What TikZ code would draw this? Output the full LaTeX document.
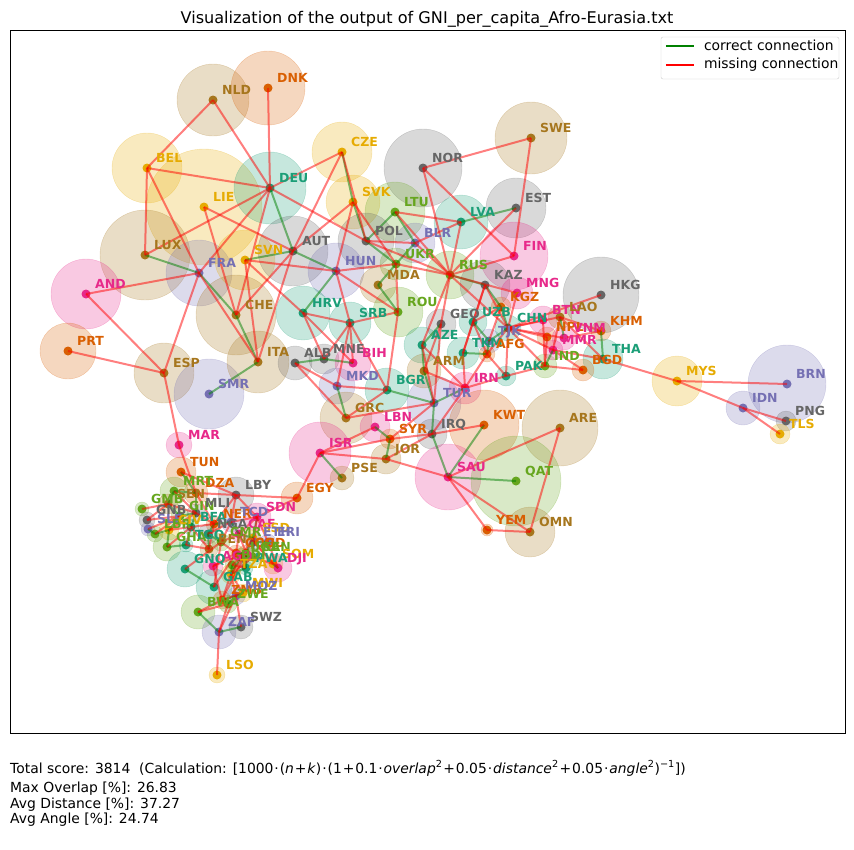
\documentclass[tikz,border=0pt]{standalone}
\usepackage{fontspec}
\setmainfont{DejaVu Sans}
\usetikzlibrary{positioning}
\definecolor{dkteal}{HTML}{1B9E77}
\definecolor{dkorange}{HTML}{D95F02}
\definecolor{dkpurple}{HTML}{7570B3}
\definecolor{dkpink}{HTML}{E7298A}
\definecolor{dkgreen}{HTML}{66A61E}
\definecolor{dkyellow}{HTML}{E6AB02}
\definecolor{dkbrown}{HTML}{A6761D}
\definecolor{dkgray}{HTML}{666666}
\definecolor{okgreen}{RGB}{0,128,0}
\definecolor{legframe}{RGB}{204,204,204}
\pgfdeclarelayer{circles}
\pgfdeclarelayer{links}
\pgfdeclarelayer{labels}
\pgfsetlayers{circles,main,links,labels}

% one country: code, x, y, radius, colour
\newcommand{\ctry}[5]{%
  \begin{pgfonlayer}{circles}
    \filldraw[fill=#5, draw=#5, fill opacity=0.25, draw opacity=0.3] (#2,#3) circle[radius=#4];
  \end{pgfonlayer}
  \node[dot, fill=#5] (#1) at (#2,#3) {};
  \begin{pgfonlayer}{labels}
    \node[lbl, text=#5] at ([shift={(9pt,6pt)}]#1.center) {#1};
  \end{pgfonlayer}
}
% binary operator with a little space
\newcommand{\bop}[1]{\hspace{0.9pt}#1\hspace{0.9pt}}

\begin{document}
\begin{tikzpicture}[x=1pt, y=-1pt,
  dot/.style={circle, inner sep=0pt, minimum size=9pt},
  lbl/.style={anchor=base west, inner sep=0pt, font=\fontsize{12.5}{14}\selectfont\bfseries},
  okline/.style={okgreen, line width=2pt, opacity=0.5},
  missline/.style={red, line width=2pt, opacity=0.5},
  txt/.style={anchor=base west, inner sep=0pt, font=\fontsize{13.9}{16}\selectfont},
]
  \useasboundingbox (0,0) rectangle (854,849);

  % Title and frame
  \node[anchor=base, inner sep=0pt, font=\fontsize{16.1}{19}\selectfont] (title) at (427,23)
    {Visualization of the output of GNI\_per\_capita\_Afro-Eurasia.txt};
  \draw[line width=0.8pt] (10,30) rectangle (845,733);

  % Western Europe
  \ctry{NLD}{213}{100}{36}{dkbrown}
  \ctry{DNK}{268}{88}{37}{dkorange}
  \ctry{BEL}{147}{168}{35}{dkyellow}
  \ctry{LIE}{204}{207}{58}{dkyellow}
  \ctry{DEU}{270}{188}{36}{dkteal}
  \ctry{LUX}{145}{255}{45}{dkbrown}
  \ctry{FRA}{199}{273}{33}{dkpurple}
  \ctry{AND}{86}{294}{35}{dkpink}
  \ctry{SVN}{245}{260}{30}{dkyellow}
  \ctry{CHE}{236}{315}{40}{dkbrown}
  \ctry{PRT}{68}{351}{28}{dkorange}
  \ctry{ESP}{164}{373}{30}{dkbrown}
  \ctry{SMR}{209}{394}{35}{dkpurple}
  \ctry{ITA}{258}{362}{31}{dkbrown}
  \ctry{AUT}{293}{251}{35}{dkgray}
  % Central and Eastern Europe
  \ctry{CZE}{342}{152}{30}{dkyellow}
  \ctry{SVK}{353}{202}{27}{dkyellow}
  \ctry{NOR}{423}{168}{39}{dkgray}
  \ctry{SWE}{531}{138}{36}{dkbrown}
  \ctry{EST}{516}{208}{30}{dkgray}
  \ctry{LVA}{461}{222}{27}{dkteal}
  \ctry{LTU}{395}{212}{30}{dkgreen}
  \ctry{POL}{366}{241}{28}{dkgray}
  \ctry{BLR}{415}{243}{20}{dkpurple}
  \ctry{FIN}{514}{256}{34}{dkpink}
  \ctry{HUN}{336}{271}{28}{dkpurple}
  \ctry{UKR}{396}{264}{16}{dkgreen}
  \ctry{MDA}{378}{285}{18}{dkbrown}
  \ctry{RUS}{450}{275}{24}{dkgreen}
  \ctry{HRV}{303}{313}{27}{dkteal}
  \ctry{SRB}{350}{323}{21}{dkteal}
  \ctry{ROU}{398}{312}{25}{dkgreen}
  \ctry{ALB}{295}{363}{17}{dkgray}
  \ctry{MNE}{324}{359}{15}{dkgray}
  \ctry{BIH}{353}{363}{18}{dkpink}
  \ctry{MKD}{337}{386}{18}{dkpurple}
  \ctry{BGR}{387}{390}{22}{dkteal}
  \ctry{GRC}{346}{418}{26}{dkbrown}
  \ctry{TUR}{434}{403}{27}{dkpurple}
  \ctry{GEO}{441}{324}{15}{dkgray}
  \ctry{AZE}{422}{345}{18}{dkteal}
  \ctry{ARM}{424}{371}{17}{dkbrown}
  % Asia
  \ctry{KAZ}{485}{285}{25}{dkgray}
  \ctry{MNG}{517}{293}{16}{dkpink}
  \ctry{KGZ}{501}{307}{10}{dkorange}
  \ctry{UZB}{473}{322}{14}{dkteal}
  \ctry{TJK}{489}{341}{12}{dkpurple}
  \ctry{TKM}{463}{353}{16}{dkteal}
  \ctry{AFG}{487}{354}{8}{dkorange}
  \ctry{CHN}{508}{328}{13}{dkteal}
  \ctry{IRN}{465}{388}{16}{dkpink}
  \ctry{PAK}{506}{376}{10}{dkteal}
  \ctry{IND}{545}{366}{12}{dkgreen}
  \ctry{NPL}{547}{337}{10}{dkorange}
  \ctry{BTN}{543}{320}{14}{dkpink}
  \ctry{LAO}{560}{317}{12}{dkbrown}
  \ctry{VNM}{564}{338}{12}{dkpink}
  \ctry{MMR}{553}{350}{10}{dkpink}
  \ctry{KHM}{601}{331}{10}{dkorange}
  \ctry{THA}{603}{359}{20}{dkteal}
  \ctry{BGD}{583}{370}{11}{dkorange}
  \ctry{HKG}{601}{295}{38}{dkgray}
  \ctry{MYS}{677}{381}{25}{dkyellow}
  \ctry{BRN}{787}{384}{39}{dkpurple}
  \ctry{IDN}{743}{408}{17}{dkpurple}
  \ctry{PNG}{786}{421}{10}{dkgray}
  \ctry{TLS}{780}{434}{10}{dkyellow}
  % Middle East
  \ctry{LBN}{375}{427}{15}{dkpink}
  \ctry{SYR}{390}{439}{10}{dkorange}
  \ctry{IRQ}{432}{434}{15}{dkgray}
  \ctry{JOR}{386}{459}{15}{dkbrown}
  \ctry{ISR}{320}{453}{31}{dkpink}
  \ctry{PSE}{342}{478}{12}{dkbrown}
  \ctry{KWT}{484}{425}{35}{dkorange}
  \ctry{ARE}{560}{428}{38}{dkbrown}
  \ctry{SAU}{448}{477}{33}{dkpink}
  \ctry{QAT}{516}{481}{45}{dkgreen}
  \ctry{YEM}{487}{530}{6}{dkorange}
  \ctry{OMN}{530}{532}{25}{dkbrown}
  % Africa
  \ctry{EGY}{297}{498}{16}{dkorange}
  \ctry{MAR}{179}{445}{13}{dkpink}
  \ctry{TUN}{181}{472}{15}{dkorange}
  \ctry{DZA}{196}{493}{12}{dkorange}
  \ctry{LBY}{236}{495}{18}{dkgray}
  \ctry{MRT}{174}{491}{14}{dkgreen}
  \ctry{SEN}{168}{504}{10}{dkbrown}
  \ctry{GMB}{142}{509}{7}{dkgreen}
  \ctry{GNB}{147}{520}{8}{dkgray}
  \ctry{GIN}{180}{516}{9}{dkgreen}
  \ctry{MLI}{196}{513}{9}{dkgray}
  \ctry{SLE}{148}{529}{7}{dkpurple}
  \ctry{LBR}{155}{534}{8}{dkgreen}
  \ctry{CIV}{169}{530}{10}{dkyellow}
  \ctry{BFA}{191}{527}{8}{dkteal}
  \ctry{NER}{214}{524}{8}{dkorange}
  \ctry{TCD}{231}{522}{10}{dkpurple}
  \ctry{SDN}{257}{517}{14}{dkpink}
  \ctry{NGA}{208}{534}{10}{dkgray}
  \ctry{CAF}{239}{534}{8}{dkpink}
  \ctry{GHA}{167}{547}{14}{dkgreen}
  \ctry{TGO}{186}{545}{7}{dkteal}
  \ctry{BEN}{209}{549}{9}{dkbrown}
  \ctry{CMR}{221}{542}{9}{dkgreen}
  \ctry{SSD}{253}{538}{8}{dkyellow}
  \ctry{ETH}{254}{542}{9}{dkpurple}
  \ctry{ERI}{268}{542}{8}{dkpurple}
  \ctry{COG}{236}{553}{8}{dkorange}
  \ctry{COD}{246}{553}{8}{dkorange}
  \ctry{UGA}{241}{557}{9}{dkgreen}
  \ctry{KEN}{253}{557}{9}{dkgreen}
  \ctry{SOM}{273}{564}{10}{dkyellow}
  \ctry{DJI}{278}{568}{14}{dkpink}
  \ctry{AGO}{213}{566}{10}{dkpink}
  \ctry{RWA}{246}{568}{7}{dkteal}
  \ctry{BDI}{232}{565}{7}{dkgreen}
  \ctry{TZA}{231}{574}{10}{dkyellow}
  \ctry{GNQ}{185}{569}{18}{dkteal}
  \ctry{GAB}{214}{587}{18}{dkteal}
  \ctry{ZMB}{222}{600}{9}{dkorange}
  \ctry{MWI}{243}{593}{9}{dkyellow}
  \ctry{MOZ}{236}{596}{9}{dkpurple}
  \ctry{ZWE}{228}{604}{9}{dkgreen}
  \ctry{BWA}{198}{612}{17}{dkgreen}
  \ctry{ZAF}{219}{632}{17}{dkpurple}
  \ctry{SWZ}{241}{627}{12}{dkgray}
  \ctry{LSO}{217}{675}{8}{dkyellow}

  % Connections
  \begin{pgfonlayer}{links}
  \foreach \a/\b in {LUX/FRA, FRA/CHE, CHE/ITA, AUT/DEU, AUT/HUN, AUT/SVN, ITA/SMR,
      CZE/SVK, SVK/POL, POL/LTU, POL/UKR, LTU/BLR, LVA/EST, BLR/UKR, UKR/MDA,
      MDA/ROU, HUN/HRV, BIH/MNE, MNE/ALB, MKD/GRC, BGR/TUR, TUR/ARM, TUR/IRN,
      TUR/IRQ, GEO/AZE, ARM/AZE, RUS/KAZ, KAZ/KGZ, UZB/TJK, KGZ/CHN, TJK/CHN,
      TJK/AFG, TKM/AFG, IND/MMR, LAO/VNM, KHM/THA, SYR/LBN, SYR/JOR, ISR/PSE,
      IRQ/SAU, KWT/SAU, SAU/QAT,
      TUN/DZA, DZA/MRT, DZA/MLI, MRT/SEN, SEN/GIN, GIN/CIV, GIN/MLI, SLE/LBR,
      LBR/CIV, CIV/GHA, MLI/BFA, GHA/TGO, BEN/NGA, NER/NGA, NER/TCD, NGA/CMR,
      TCD/CAF, CAF/SSD, SDN/SSD, SSD/ETH, SSD/COD, ERI/ETH, ETH/KEN, DJI/SOM,
      KEN/UGA, UGA/COD, UGA/RWA, UGA/TZA, RWA/COD, RWA/TZA, BDI/TZA, GNQ/GAB,
      COG/COD, ZMB/MOZ, ZMB/ZWE, MWI/MOZ, MOZ/ZWE, BWA/ZAF, ZAF/SWZ}
    \draw[okline] (\a.center) -- (\b.center);
  \foreach \a/\b in {NLD/BEL, NLD/DEU, DNK/DEU, BEL/DEU, BEL/LUX, BEL/FRA, LUX/DEU,
      FRA/DEU, FRA/ITA, FRA/ESP, FRA/AND, ESP/AND, ESP/PRT, ESP/MAR, CHE/DEU,
      CHE/AUT, CHE/LIE, LIE/AUT, AUT/CZE, AUT/SVK, AUT/ITA, ITA/SVN, DEU/CZE,
      DEU/POL, CZE/POL, SVK/HUN, SVK/UKR, POL/BLR, POL/RUS, LTU/LVA, LTU/RUS,
      LVA/BLR, LVA/RUS, EST/RUS, NOR/SWE, NOR/FIN, NOR/RUS, SWE/FIN, FIN/RUS,
      BLR/RUS, UKR/RUS, UKR/ROU, UKR/HUN, HUN/ROU, HUN/SRB, HUN/SVN, SVN/HRV,
      HRV/SRB, HRV/BIH, HRV/MNE, BIH/SRB, SRB/MNE, SRB/ROU, SRB/BGR, SRB/MKD,
      ALB/MKD, ALB/GRC, MKD/BGR, BGR/ROU, BGR/GRC, GRC/TUR, TUR/GEO, TUR/AZE,
      TUR/SYR, GEO/RUS, GEO/ARM, ARM/IRN, AZE/RUS, AZE/IRN,
      RUS/MNG, RUS/CHN, KAZ/CHN, KAZ/UZB, KAZ/TKM, UZB/KGZ, UZB/TKM, UZB/AFG,
      KGZ/TJK, TKM/IRN, AFG/IRN, AFG/PAK, AFG/CHN, IRN/PAK, IRN/IRQ, PAK/IND,
      PAK/CHN, IND/CHN, IND/NPL, IND/BTN, IND/BGD, NPL/CHN, BTN/CHN, MNG/CHN,
      CHN/MMR, CHN/LAO, CHN/VNM, CHN/HKG, MMR/BGD, MMR/LAO, MMR/THA, LAO/KHM,
      LAO/THA, VNM/KHM, THA/MYS, MYS/BRN, MYS/IDN, IDN/PNG, IDN/TLS,
      SYR/ISR, SYR/IRQ, LBN/ISR, ISR/JOR, ISR/EGY, JOR/IRQ, JOR/SAU, IRQ/KWT,
      SAU/ARE, SAU/OMN, SAU/YEM, ARE/OMN, YEM/OMN,
      EGY/LBY, EGY/SDN, LBY/TUN, LBY/DZA, LBY/NER, LBY/TCD, LBY/SDN, DZA/MAR,
      DZA/NER, MRT/MLI, SEN/GMB, SEN/GNB, SEN/MLI, GNB/GIN, GIN/SLE, GIN/LBR,
      CIV/MLI, CIV/BFA, MLI/NER, BFA/NER, BFA/BEN, BFA/TGO, BFA/GHA, TGO/BEN,
      BEN/NER, NGA/TCD, TCD/CMR, TCD/SDN, CMR/CAF, CMR/GNQ, CMR/GAB, CMR/COG,
      CAF/SDN, CAF/COD, CAF/COG, SDN/ETH, SDN/ERI, SSD/KEN, SSD/UGA, ERI/DJI,
      ETH/DJI, ETH/SOM, SOM/KEN, KEN/TZA, RWA/BDI, BDI/COD, TZA/COD, TZA/ZMB,
      TZA/MWI, TZA/MOZ, GAB/COG, COG/AGO, COD/AGO, COD/ZMB, AGO/ZMB, ZMB/MWI,
      ZMB/BWA, MOZ/ZAF, MOZ/SWZ, ZWE/BWA, ZWE/ZAF, ZAF/LSO}
    \draw[missline] (\a.center) -- (\b.center);
  \end{pgfonlayer}

  % Legend
  \begin{pgfonlayer}{labels}
  \node[draw=legframe, fill=white, rounded corners=2pt, minimum width=178pt,
        minimum height=42pt, inner sep=0pt] (legend) at (750,58) {};
  \coordinate[below right=9pt and 5pt of legend.north west] (okA);
  \coordinate[right=28pt of okA] (okB);
  \coordinate[below=19pt of okA] (missA);
  \coordinate[right=28pt of missA] (missB);
  \draw[okgreen, line width=1.4pt] (okA) -- (okB);
  \draw[red, line width=1.4pt] (missA) -- (missB);
  \node[txt, anchor=west] (okT) at ([xshift=10pt]okB) {correct connection};
  \node[txt, anchor=west] (missT) at ([xshift=10pt]missB) {missing connection};
  \end{pgfonlayer}

  % Score text
  \node[txt] (score) at (10,773) {Total score: 3814\ \ (Calculation: [1000\bop{·}(\textit{n}\bop{+}\textit{k})\bop{·}(1\bop{+}0.1\bop{·}\textit{overlap}\textsuperscript{2}\bop{+}0.05\bop{·}\textit{distance}\textsuperscript{2}\bop{+}0.05\bop{·}\textit{angle}\textsuperscript{2})\textsuperscript{−1}])};
  \node[txt] (overlap) at (10,792) {Max Overlap [\%]: 26.83};
  \node[txt] (dist) at (10,808) {Avg Distance [\%]: 37.27};
  \node[txt] (angle) at (10,823) {Avg Angle [\%]: 24.74};
\end{tikzpicture}
\end{document}
